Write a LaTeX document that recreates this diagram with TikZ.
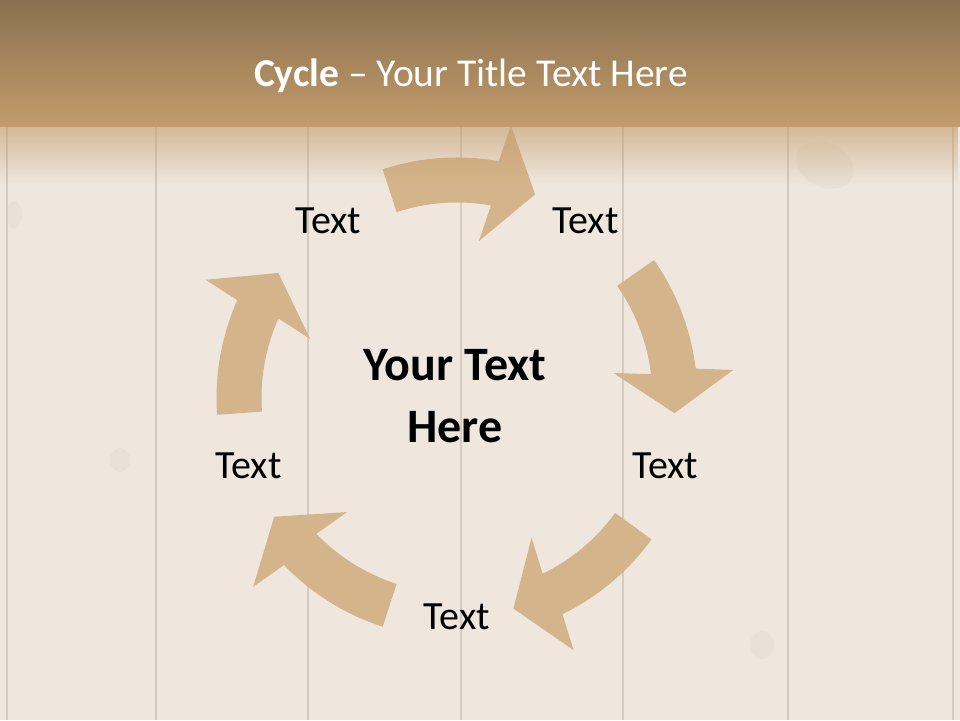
\documentclass[tikz,border=0pt]{standalone}
\usepackage{fontspec}
\setmainfont{Carlito}
\usetikzlibrary{fadings,calc}
\definecolor{wood}{HTML}{EFE7DE}
\definecolor{seam}{HTML}{D3CAC0}
\definecolor{knot}{HTML}{B9ADA0}
\definecolor{titletop}{HTML}{8A7050}
\definecolor{titlebot}{HTML}{C39C6A}
\definecolor{arrowfill}{HTML}{D4B48A}
\tikzfading[name=fadedown, top color=transparent!40, bottom color=transparent!100]
\begin{document}
\begin{tikzpicture}[x=1pt,y=1pt,
  cyclearrow/.style={fill=arrowfill, draw=none},
  steptext/.style={font=\fontsize{40}{48}\selectfont, text=black, inner sep=0pt},
  centertext/.style={font=\bfseries\fontsize{48}{62}\selectfont, text=black, align=center, inner sep=0pt},
  titletext/.style={font=\fontsize{39.5}{44}\selectfont, text=white, inner sep=0pt},
  seamline/.style={draw=seam, line width=1.1pt},
  knotmark/.style={fill=knot, opacity=0.1}]
\useasboundingbox (0,0) rectangle (960,720);
% wood background
\fill[wood] (0,0) rectangle (960,720);
\fill[knotmark] (14,505) ellipse (8 and 14);
\fill[knotmark] (120,260) ellipse (10 and 12);
\fill[knotmark, rotate around={-25:(825,555)}] (825,555) ellipse (30 and 22);
\fill[knotmark] (762,75) ellipse (12 and 14);
\foreach \x in {7,156,308,461,623,788,953}
  \draw[seamline] (\x,0) -- (\x,593);
% cycle arrows
\begin{scope}[shift={(457,322)}]
  \foreach \v/\off in {126/0,54/-1,-18/0,-90/0,-162/4} {
    \pgfmathsetmacro\sa{\v+\off-18}
    \pgfmathsetmacro\ba{\v+\off-46}
    \pgfmathsetmacro\ta{\v+\off-57}
    \coordinate (B) at (\ba:218pt);
    \coordinate (T) at (\ta:218pt);
    \fill[cyclearrow] (\sa:240.5pt) arc[start angle=\sa, end angle=\ba, radius=240.5pt]
      -- ($(B)!60pt!90:(T)$) -- (T) -- ($(B)!60pt!-90:(T)$)
      -- (\ba:195.5pt) arc[start angle=\ba, end angle=\sa, radius=195.5pt] -- cycle;
  }
  \node[steptext] (t1) at (126:219pt) {Text};
  \node[steptext] (t2) at (54:219pt) {Text};
  \node[steptext] (t3) at (-18:219pt) {Text};
  \node[steptext] (t4) at (-90:219pt) {Text};
  \node[steptext] (t5) at (198:219pt) {Text};
\end{scope}
% title bar
\shade[top color=titletop, bottom color=titlebot] (0,593) rectangle (960,720);
\fill[titlebot, path fading=fadedown] (0,535) rectangle (960,593);
\node[titletext] (title) at (471,644) {\textbf{Cycle} – Your Title Text Here};
\node[centertext] (center) at (455,324) {Your Text\\Here};
\end{tikzpicture}
\end{document}
